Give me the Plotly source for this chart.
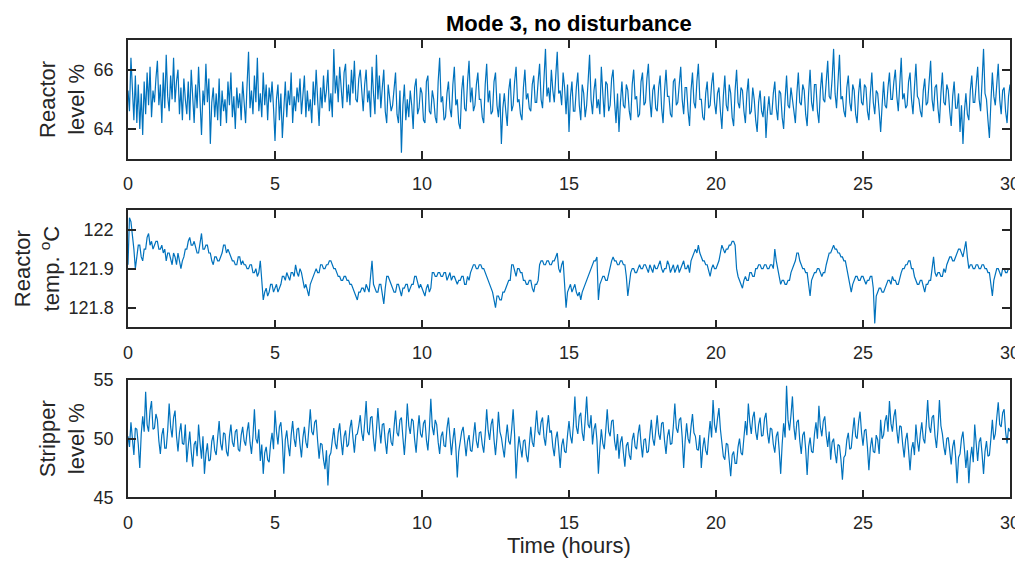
import plotly.graph_objects as go

reactor_level = [
    65.3, 64.6, 66.4, 65.0, 64.3, 65.8, 64.2, 65.5, 64.0, 65.2, 63.8, 65.6, 64.5, 65.9, 64.8, 66.1, 64.4, 65.3, 64.9, 65.7,
    66.3, 64.8, 65.5, 64.2, 65.9, 64.7, 66.5, 65.1, 64.6, 65.8, 65.0, 66.4, 64.9, 65.6, 66.0, 64.5, 65.4, 64.3, 65.7, 65.0,
    64.5, 65.6, 64.3, 66.0, 65.1, 64.2, 65.5, 64.7, 66.1, 64.6, 63.8, 65.3, 64.8, 66.2, 64.9, 65.7, 63.5, 64.9, 65.4, 64.4,
    65.2, 64.3, 65.7, 64.1, 65.3, 64.6, 65.0, 64.2, 65.6, 64.8, 65.9, 64.4, 65.1, 64.0, 65.4, 64.7, 65.2, 64.3, 65.6, 64.9,
    64.2, 65.5, 66.6, 64.7, 65.3, 64.5, 65.8, 64.9, 66.4, 64.6, 65.2, 64.4, 65.9, 64.8, 65.5, 64.3, 65.4, 64.9, 65.6, 64.7,
    63.6, 65.0, 65.5, 64.3, 65.2, 63.7, 64.9, 65.6, 64.4, 65.3, 64.8, 65.9, 64.2, 65.1, 64.6, 65.4, 64.9, 65.7, 64.5, 65.1,
    65.8, 64.4, 65.3, 64.6, 65.0, 64.2, 65.6, 64.8, 66.0, 65.0, 64.1, 65.4, 64.7, 65.8, 64.9, 65.3, 66.0, 64.6, 65.2, 64.4,
    66.7, 65.2, 65.8, 64.9, 66.1, 65.4, 64.7, 65.9, 66.2, 64.9, 65.5, 64.8, 66.0, 65.2, 66.3, 65.0, 64.9, 65.7, 66.0, 65.3,
    64.6, 65.5, 66.0, 64.9, 65.3, 64.4, 66.1, 65.2, 64.5, 66.5, 65.0, 65.8, 64.7, 65.4, 66.0, 64.6, 64.2, 65.5, 65.0, 64.6,
    64.8, 65.5, 65.9, 64.5, 64.2, 65.3, 63.2, 64.8, 65.5, 64.3, 65.0, 64.4, 65.3, 64.8, 64.0, 65.4, 65.7, 64.5, 64.7, 65.4,
    65.2, 64.3, 64.2, 65.6, 65.8, 64.6, 64.5, 65.3, 65.0, 64.4, 64.2, 65.6, 66.4, 64.9, 65.1, 64.3, 64.4, 65.2, 65.6, 64.7,
    64.4, 65.5, 66.1, 64.8, 65.0, 64.2, 64.0, 65.3, 65.8, 64.7, 64.6, 65.6, 66.3, 64.9, 65.4, 64.6, 64.8, 65.5, 65.9, 65.0,
    65.0, 64.4, 64.2, 65.5, 66.2, 64.9, 65.3, 64.5, 64.6, 65.6, 65.9, 64.8, 64.4, 65.2, 63.5, 64.7, 65.2, 64.6, 64.1, 65.3,
    65.7, 64.6, 64.8, 65.6, 66.1, 64.9, 65.0, 64.5, 64.3, 65.4, 66.0, 65.0, 65.2, 64.7, 64.6, 65.5, 65.8, 64.9, 64.9, 65.6,
    66.2, 65.0, 64.7, 65.7, 66.7, 65.1, 65.4, 64.9, 66.0, 65.3, 64.9, 65.8, 66.6, 65.2, 65.3, 64.8, 65.9, 65.4, 64.5, 65.5,
    63.9, 65.1, 65.6, 64.6, 64.6, 65.4, 65.9, 64.8, 64.3, 65.5, 65.2, 64.4, 64.8, 65.6, 66.5, 65.0, 64.5, 65.3, 65.7, 64.7,
    65.0, 64.5, 66.1, 65.2, 64.4, 65.6, 65.5, 64.6, 64.8, 65.7, 66.0, 64.9, 64.2, 65.2, 63.9, 64.9, 65.6, 64.8, 64.7, 65.5,
    65.3, 64.6, 64.3, 65.5, 66.0, 65.0, 65.1, 64.4, 64.5, 65.6, 65.9, 64.8, 64.9, 65.7, 66.2, 65.0, 64.4, 65.3, 65.5, 64.7,
    64.6, 65.4, 65.8, 64.7, 64.2, 65.3, 66.0, 65.1, 65.1, 64.5, 64.4, 65.6, 65.7, 64.8, 64.9, 65.5, 66.1, 65.0, 64.5, 65.4,
    65.4, 64.6, 64.1, 65.3, 65.9, 64.9, 64.7, 65.6, 66.2, 65.0, 65.0, 64.4, 64.3, 65.2, 65.6, 64.7, 64.8, 65.5, 65.9, 64.9,
    64.5, 65.2, 65.4, 64.6, 64.0, 65.1, 65.8, 64.8, 64.6, 65.5, 65.2, 64.4, 64.1, 65.3, 66.0, 64.9, 64.7, 65.4, 65.3, 64.6,
    64.2, 65.2, 65.7, 64.5, 64.6, 65.4, 65.0, 64.3, 63.9, 64.9, 65.3, 64.6, 64.4, 65.1, 63.7, 64.6, 65.1, 64.5, 64.5, 65.2,
    65.6, 64.7, 64.3, 65.3, 65.2, 64.4, 64.0, 65.0, 65.8, 64.8, 64.7, 65.4, 65.0, 64.5, 64.2, 65.2, 65.9, 64.9, 64.8, 65.5,
    65.3, 64.5, 64.1, 65.2, 66.0, 64.9, 64.6, 65.5, 65.5, 64.6, 64.2, 65.3, 65.9, 65.0, 64.9, 65.6, 66.3, 65.1, 65.0, 65.7,
    66.7, 65.2, 64.7, 65.6, 66.5, 65.0, 65.1, 64.6, 64.4, 65.4, 65.8, 64.9, 64.6, 65.5, 65.3, 64.5, 64.2, 65.2, 65.7, 64.9,
    64.8, 65.5, 65.4, 64.6, 64.3, 65.2, 65.9, 64.9, 64.5, 65.3, 65.2, 64.6, 63.9, 64.8, 65.6, 64.8, 64.7, 65.4, 65.9, 65.0,
    65.0, 65.6, 66.0, 65.1, 64.6, 65.5, 66.4, 65.0, 65.2, 64.7, 64.8, 65.6, 65.9, 65.0, 64.5, 65.4, 66.2, 65.1, 65.0, 64.6,
    64.4, 65.3, 65.7, 64.8, 64.9, 65.6, 66.3, 65.0, 64.6, 65.4, 65.5, 64.7, 64.2, 65.2, 65.9, 64.9, 64.8, 65.5, 65.3, 64.6,
    64.1, 65.1, 65.6, 64.7, 64.7, 65.2, 63.9, 64.8, 63.5, 64.6, 65.2, 64.5, 64.3, 65.3, 65.8, 64.9, 64.9, 65.5, 66.1, 65.0,
    64.6, 65.6, 66.7, 65.2, 65.0, 64.3, 63.7, 64.9, 65.9, 65.1, 64.8, 65.5, 66.2, 65.0, 64.5, 65.3, 65.4, 64.6, 64.2, 65.1,
    65.5,
]

reactor_temp = [
    121.91, 122.03, 122.02, 121.99, 121.95, 121.90, 121.94, 121.96, 121.96, 121.93, 121.92, 121.95, 121.95, 121.98, 121.99, 121.96, 121.97, 121.95, 121.96, 121.97,
    121.97, 121.95, 121.95, 121.96, 121.94, 121.95, 121.92, 121.94, 121.94, 121.92, 121.91, 121.94, 121.93, 121.91, 121.94, 121.92, 121.90, 121.92, 121.93, 121.95,
    121.95, 121.97, 121.98, 121.96, 121.96, 121.97, 121.95, 121.94, 121.94, 121.96, 121.99, 121.95, 121.95, 121.96, 121.96, 121.94, 121.94, 121.92, 121.91, 121.93,
    121.93, 121.92, 121.92, 121.93, 121.94, 121.96, 121.96, 121.94, 121.95, 121.94, 121.93, 121.92, 121.92, 121.91, 121.91, 121.93, 121.93, 121.91, 121.92, 121.91,
    121.91, 121.90, 121.90, 121.91, 121.91, 121.89, 121.89, 121.90, 121.88, 121.89, 121.92, 121.87, 121.82, 121.84, 121.85, 121.83, 121.84, 121.86, 121.86, 121.84,
    121.85, 121.86, 121.84, 121.85, 121.86, 121.88, 121.88, 121.87, 121.89, 121.88, 121.87, 121.89, 121.89, 121.88, 121.91, 121.89, 121.88, 121.90, 121.89, 121.87,
    121.85, 121.86, 121.84, 121.83, 121.86, 121.87, 121.88, 121.89, 121.90, 121.89, 121.89, 121.91, 121.91, 121.90, 121.90, 121.91, 121.91, 121.92, 121.92, 121.91,
    121.90, 121.90, 121.89, 121.88, 121.88, 121.87, 121.87, 121.88, 121.88, 121.87, 121.87, 121.86, 121.86, 121.85, 121.84, 121.83, 121.82, 121.84, 121.84, 121.85,
    121.85, 121.84, 121.86, 121.85, 121.84, 121.88, 121.92, 121.86, 121.85, 121.84, 121.84, 121.86, 121.86, 121.83, 121.81, 121.85, 121.88, 121.88, 121.87, 121.86,
    121.85, 121.84, 121.84, 121.86, 121.86, 121.84, 121.83, 121.85, 121.85, 121.86, 121.86, 121.84, 121.85, 121.86, 121.86, 121.88, 121.88, 121.86, 121.85, 121.86,
    121.85, 121.84, 121.83, 121.85, 121.86, 121.84, 121.85, 121.89, 121.89, 121.88, 121.88, 121.89, 121.89, 121.88, 121.88, 121.89, 121.89, 121.87, 121.88, 121.89,
    121.87, 121.88, 121.88, 121.87, 121.86, 121.87, 121.87, 121.88, 121.88, 121.86, 121.86, 121.88, 121.87, 121.89, 121.90, 121.91, 121.91, 121.90, 121.90, 121.91,
    121.91, 121.90, 121.90, 121.89, 121.88, 121.87, 121.86, 121.85, 121.84, 121.82, 121.80, 121.83, 121.83, 121.82, 121.82, 121.84, 121.84, 121.85, 121.86, 121.87,
    121.87, 121.91, 121.91, 121.89, 121.88, 121.90, 121.90, 121.89, 121.89, 121.87, 121.87, 121.86, 121.86, 121.87, 121.87, 121.85, 121.84, 121.86, 121.86, 121.87,
    121.91, 121.92, 121.92, 121.91, 121.91, 121.92, 121.92, 121.91, 121.91, 121.92, 121.92, 121.93, 121.94, 121.90, 121.89, 121.91, 121.92, 121.86, 121.80, 121.84,
    121.85, 121.86, 121.84, 121.85, 121.86, 121.84, 121.83, 121.84, 121.82, 121.84, 121.85, 121.86, 121.87, 121.88, 121.89, 121.90, 121.91, 121.92, 121.92, 121.93,
    121.82, 121.86, 121.87, 121.88, 121.88, 121.87, 121.87, 121.89, 121.91, 121.92, 121.93, 121.92, 121.92, 121.91, 121.91, 121.92, 121.92, 121.91, 121.91, 121.88,
    121.83, 121.87, 121.89, 121.90, 121.90, 121.89, 121.89, 121.90, 121.91, 121.90, 121.90, 121.91, 121.91, 121.90, 121.89, 121.91, 121.90, 121.89, 121.91, 121.90,
    121.90, 121.91, 121.92, 121.90, 121.89, 121.90, 121.90, 121.92, 121.91, 121.89, 121.90, 121.91, 121.89, 121.90, 121.91, 121.89, 121.90, 121.91, 121.92, 121.90,
    121.90, 121.91, 121.89, 121.92, 121.93, 121.94, 121.95, 121.94, 121.96, 121.94, 121.93, 121.92, 121.92, 121.91, 121.91, 121.89, 121.88, 121.90, 121.91, 121.90,
    121.90, 121.91, 121.92, 121.94, 121.96, 121.95, 121.94, 121.95, 121.95, 121.96, 121.96, 121.97, 121.97, 121.96, 121.90, 121.88, 121.87, 121.86, 121.85, 121.87,
    121.88, 121.87, 121.87, 121.89, 121.89, 121.88, 121.88, 121.90, 121.90, 121.91, 121.91, 121.90, 121.90, 121.91, 121.91, 121.90, 121.90, 121.91, 121.91, 121.90,
    121.95, 121.92, 121.90, 121.87, 121.86, 121.87, 121.87, 121.86, 121.86, 121.87, 121.87, 121.89, 121.90, 121.91, 121.92, 121.94, 121.94, 121.92, 121.91, 121.90,
    121.90, 121.89, 121.89, 121.86, 121.83, 121.87, 121.88, 121.89, 121.89, 121.90, 121.90, 121.89, 121.88, 121.89, 121.89, 121.91, 121.93, 121.94, 121.94, 121.95,
    121.96, 121.95, 121.95, 121.94, 121.94, 121.93, 121.93, 121.92, 121.92, 121.90, 121.88, 121.86, 121.84, 121.86, 121.87, 121.88, 121.88, 121.87, 121.87, 121.88,
    121.88, 121.87, 121.86, 121.87, 121.87, 121.88, 121.88, 121.85, 121.76, 121.83, 121.84, 121.85, 121.85, 121.84, 121.84, 121.85, 121.86, 121.87, 121.87, 121.86,
    121.88, 121.87, 121.87, 121.86, 121.86, 121.88, 121.89, 121.90, 121.90, 121.91, 121.91, 121.92, 121.92, 121.90, 121.90, 121.88, 121.87, 121.86, 121.86, 121.87,
    121.87, 121.85, 121.84, 121.86, 121.86, 121.87, 121.87, 121.90, 121.93, 121.89, 121.88, 121.89, 121.89, 121.88, 121.88, 121.90, 121.89, 121.91, 121.92, 121.93,
    121.93, 121.92, 121.92, 121.93, 121.94, 121.95, 121.95, 121.94, 121.93, 121.95, 121.97, 121.93, 121.90, 121.91, 121.91, 121.90, 121.90, 121.91, 121.91, 121.90,
    121.90, 121.91, 121.91, 121.90, 121.90, 121.89, 121.89, 121.86, 121.83, 121.87, 121.89, 121.90, 121.90, 121.89, 121.88, 121.90, 121.90, 121.89, 121.89, 121.90,
    121.90,
]

stripper_level = [
    50.2, 49.3, 51.4, 50.0, 48.6, 50.9, 50.8, 49.5, 47.5, 50.4, 51.9, 50.6, 54.0, 51.2, 50.6, 52.4, 53.2, 50.8, 50.9, 52.1,
    51.6, 49.8, 48.7, 50.3, 50.9, 49.2, 49.2, 50.7, 53.0, 51.0, 50.1, 51.8, 52.4, 50.2, 48.9, 50.5, 51.3, 49.6, 49.5, 51.2,
    48.0, 49.4, 50.6, 48.9, 47.6, 49.5, 49.8, 48.5, 51.2, 49.6, 48.3, 50.2, 47.0, 48.7, 49.6, 48.1, 48.2, 49.8, 50.3, 49.0,
    48.6, 50.1, 51.5, 49.6, 49.0, 50.5, 50.4, 48.9, 48.5, 50.2, 51.2, 49.7, 49.3, 50.6, 50.8, 49.1, 48.9, 50.3, 51.0, 49.8,
    49.4, 50.6, 51.4, 49.7, 48.7, 50.2, 52.5, 50.0, 49.6, 50.8, 48.1, 49.5, 47.0, 48.8, 49.3, 48.2, 48.0, 49.6, 50.5, 49.1,
    52.4, 50.6, 49.5, 51.0, 51.4, 49.8, 47.0, 49.9, 50.7, 49.4, 48.5, 50.3, 51.5, 50.0, 49.3, 50.8, 50.9, 49.5, 48.4, 50.1,
    51.0, 49.7, 49.2, 50.8, 52.5, 50.6, 50.3, 51.4, 51.6, 49.8, 48.3, 49.6, 49.5, 48.2, 47.4, 49.0, 46.0, 48.5, 48.8, 49.9,
    50.9, 49.6, 49.1, 50.5, 51.3, 49.8, 48.6, 50.2, 50.7, 49.3, 49.5, 50.9, 51.6, 50.1, 48.8, 50.3, 50.4, 51.1, 52.0, 50.5,
    49.8, 51.4, 53.2, 50.6, 50.3, 51.8, 51.9, 50.0, 48.9, 50.7, 52.6, 50.9, 49.6, 51.2, 51.3, 49.8, 48.7, 50.4, 50.9, 49.7,
    49.4, 51.0, 52.4, 50.5, 50.2, 51.6, 51.8, 50.1, 48.6, 50.4, 53.0, 51.1, 50.4, 51.7, 51.5, 49.9, 48.8, 50.6, 52.0, 50.4,
    50.1, 51.3, 51.6, 49.9, 49.0, 50.8, 53.4, 51.0, 50.3, 51.6, 51.2, 49.7, 48.7, 50.2, 50.6, 49.4, 49.3, 50.9, 51.8, 50.2,
    48.6, 49.9, 50.9, 49.3, 46.7, 48.9, 49.8, 50.6, 51.0, 49.4, 48.5, 49.8, 50.3, 49.0, 48.9, 50.2, 51.4, 49.8, 49.2, 50.5,
    50.6, 49.5, 48.8, 50.4, 52.5, 50.7, 49.9, 51.2, 51.7, 49.9, 48.6, 50.1, 52.3, 50.6, 50.1, 49.2, 48.4, 50.0, 51.2, 49.8,
    49.5, 50.8, 52.5, 50.3, 46.6, 48.9, 50.2, 49.3, 48.4, 49.8, 49.9, 48.6, 48.0, 49.5, 51.0, 49.7, 49.3, 50.8, 52.4, 50.6,
    50.3, 51.4, 51.8, 50.1, 49.4, 50.9, 52.0, 50.5, 50.7, 49.3, 48.5, 50.0, 50.6, 49.2, 47.5, 49.4, 50.0, 48.9, 48.8, 50.3,
    51.5, 50.2, 49.6, 51.2, 53.6, 51.0, 50.4, 51.9, 52.2, 50.5, 49.8, 51.6, 53.6, 51.2, 50.9, 52.0, 49.5, 50.8, 51.3, 49.9,
    47.0, 49.2, 50.8, 49.6, 49.1, 50.7, 52.5, 50.6, 50.2, 51.5, 51.6, 49.8, 49.0, 50.4, 48.3, 49.7, 50.2, 48.8, 47.6, 49.4,
    49.7, 48.6, 48.2, 49.9, 50.5, 49.3, 49.1, 50.4, 51.2, 49.6, 48.4, 49.9, 50.0, 48.8, 48.9, 50.3, 51.6, 50.0, 49.4, 50.7,
    52.0, 50.4, 49.9, 51.3, 51.4, 49.8, 48.7, 50.2, 50.8, 49.5, 49.6, 51.1, 53.0, 50.9, 50.5, 51.6, 51.8, 50.1, 47.5, 49.8,
    51.3, 50.0, 49.6, 51.0, 52.1, 50.5, 50.2, 49.1, 49.0, 50.3, 47.5, 49.2, 50.1, 49.0, 48.6, 50.2, 51.5, 50.1, 53.3, 51.2,
    50.5, 51.7, 52.6, 50.8, 49.6, 48.5, 48.2, 49.6, 49.5, 48.3, 46.8, 48.6, 48.9, 47.9, 47.9, 49.3, 50.0, 48.8, 48.6, 50.1,
    51.5, 50.3, 53.0, 51.4, 50.4, 51.8, 52.3, 50.6, 49.9, 51.2, 51.8, 50.2, 50.3, 51.7, 52.2, 50.5, 49.6, 50.9, 50.8, 49.5,
    48.8, 50.2, 50.6, 49.0, 47.0, 49.5, 51.3, 50.1, 54.5, 51.6, 50.7, 52.0, 53.6, 51.0, 49.9, 51.4, 51.6, 49.8, 48.7, 50.3,
    50.6, 49.1, 46.9, 49.3, 50.1, 48.9, 48.8, 50.4, 51.4, 50.0, 52.8, 51.0, 50.2, 51.5, 51.9, 50.3, 49.3, 50.6, 48.2, 49.7,
    50.0, 48.8, 47.9, 49.5, 49.4, 48.2, 46.5, 48.4, 48.6, 49.9, 50.5, 49.1, 49.2, 50.6, 51.8, 50.2, 50.0, 51.4, 52.3, 50.5,
    49.4, 50.7, 50.8, 49.3, 47.3, 49.2, 50.1, 48.9, 48.8, 50.3, 49.9, 48.7, 51.6, 50.0, 50.3, 51.5, 52.0, 50.6, 53.2, 51.3,
    50.6, 51.9, 52.5, 50.7, 49.6, 51.1, 51.0, 49.5, 48.4, 49.9, 50.5, 49.0, 47.3, 49.1, 49.7, 48.6, 51.2, 49.8, 48.9, 50.4,
    51.4, 50.0, 49.6, 51.2, 53.3, 51.0, 50.5, 51.8, 52.0, 50.2, 49.2, 50.8, 53.3, 51.1, 50.4, 49.3, 48.6, 50.0, 50.1, 49.0,
    47.8, 49.3, 49.9, 48.5, 46.2, 48.4, 48.7, 50.0, 50.6, 49.1, 47.5, 49.0, 46.2, 48.3, 49.3, 48.0, 51.2, 49.6, 48.1, 49.7,
    50.1, 48.7, 47.0, 48.9, 49.8, 48.5, 48.6, 50.0, 51.6, 49.9, 50.4, 51.8, 53.1, 51.2, 51.0, 52.2, 52.5, 50.6, 49.6, 50.9,
    50.6,
]

x_ticks = [0, 5, 10, 15, 20, 25, 30]
y1_ticks = [64, 66]
y2_ticks = [121.8, 121.9, 122.0]
y2_ticklabels = ["121.8", "121.9", "122"]
y3_ticks = [45, 50, 55]

title_text = "Mode 3, no disturbance"
x_title = "Time (hours)"
y_titles = ["Reactor<br>level %", "Reactor<br>temp. <sup>o</sup>C", "Stripper<br>level %"]

# ---- figure ----
# the page body has an 8 px margin, so the figure is sized to fit the window
PAGE_OFF = 8
W, H = 1023 - PAGE_OFF, 562 - PAGE_OFF
LINE = "#0072BD"
INK = "#262626"
FONT = "Liberation Sans, Arial, Helvetica, sans-serif"
T_END = 30.0

def time_axis(n):
    step = T_END / (n - 1)
    return [i * step for i in range(n)]

series = [reactor_level, reactor_temp, stripper_level]
fig = go.Figure()
for k, s in enumerate(series):
    sfx = "" if k == 0 else str(k + 1)
    fig.add_trace(go.Scatter(
        x=time_axis(len(s)), y=s, mode="lines",
        line=dict(color=LINE, width=1.2),
        xaxis="x" + sfx, yaxis="y" + sfx, showlegend=False,
        hoverinfo="skip",
    ))

# panel boxes in window pixels (top, bottom); plot x from 128 to 1010
boxes = [(40, 158.7), (210, 327.3), (380, 497.3)]
ranges = [[63, 67], [121.75, 122.05], [45, 55]]
yticks = [y1_ticks, y2_ticks, y3_ticks]
ytext = [[str(v) for v in y1_ticks], y2_ticklabels, [str(v) for v in y3_ticks]]

common_axis = dict(
    showline=True, linecolor=INK, linewidth=1.5, mirror="ticks",
    ticks="inside", ticklen=8, tickwidth=1.5, tickcolor=INK,
    showgrid=False, zeroline=False, automargin=False,
    tickfont=dict(family=FONT, size=18, color=INK),
)

layout = dict(
    width=W, height=H,
    margin=dict(l=128 - PAGE_OFF, r=W - (1010 - PAGE_OFF), t=0, b=0, autoexpand=False),
    paper_bgcolor="white", plot_bgcolor="white",
    font=dict(family=FONT, color=INK),
)
for k in range(3):
    sfx = "" if k == 0 else str(k + 1)
    top, bot = boxes[k]
    top -= PAGE_OFF
    bot -= PAGE_OFF
    dom = [1 - bot / H, 1 - top / H]
    xa = dict(common_axis, domain=[0, 1], anchor="y" + sfx, range=[0, 30],
              tickvals=x_ticks, ticktext=[str(v) for v in x_ticks],
              ticklabelstandoff=8)
    if k == 2:
        xa["title"] = dict(text=x_title, font=dict(family=FONT, size=22, color=INK), standoff=4)
    ya = dict(common_axis, domain=dom, anchor="x" + sfx, range=ranges[k],
              tickvals=yticks[k], ticktext=ytext[k], ticklabelstandoff=9,
              title=dict(text=y_titles[k], font=dict(family=FONT, size=22, color=INK), standoff=3))
    layout["xaxis" + sfx] = xa
    layout["yaxis" + sfx] = ya

layout["annotations"] = [dict(
    text="<b>" + title_text + "</b>", x=0.5, xref="paper", xanchor="center",
    y=1 - (23 - PAGE_OFF) / H, yref="paper", yanchor="middle", showarrow=False,
    font=dict(family=FONT, size=22, color="#000000"),
)]

fig.update_layout(**layout)
fig.write_html("out.html")
